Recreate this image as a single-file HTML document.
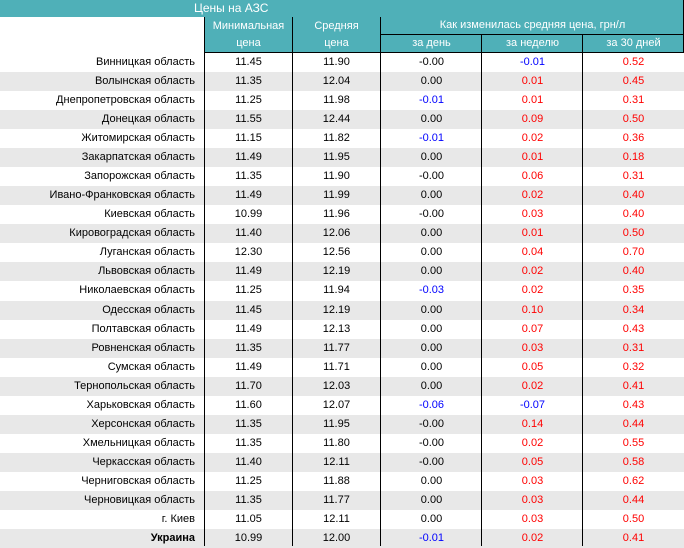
<!DOCTYPE html>
<html><head><meta charset="utf-8"><style>
body{margin:0;width:684px;height:546px;overflow:hidden;background:#fff;font-family:"Liberation Sans",Arial,sans-serif;font-size:11px;}
.top{position:absolute;left:0;top:0;width:684px;height:17px;background:#4fb0b8;color:#fff;font-size:12px;line-height:17px;}
.top span{position:absolute;left:194px;}
.h{position:absolute;background:#4fb0b8;color:#fff;text-align:center;font-size:11px;}
.v{position:absolute;top:17px;width:1px;height:529px;background:#000;}
.row{position:absolute;left:0;width:684px;height:19px;line-height:19px;}
.row div{position:absolute;top:0;text-align:center;}
.g{background:#e8e8e8;}
.row div.n{right:489px;text-align:right;}
.b{color:#0000ff}.r{color:#ff0000}
</style></head><body>
<div class="top"><span>Цены на АЗС</span></div>
<div class="h" style="left:205px;top:17px;width:479px;height:36px;"></div>
<div class="h" style="left:205px;top:18px;width:87px;line-height:17px;">Минимальная<br>цена</div>
<div class="h" style="left:292px;top:18px;width:89px;line-height:17px;">Средняя<br>цена</div>
<div class="h" style="left:381px;top:17px;width:303px;line-height:17px;">Как изменилась средняя цена, грн/л</div>
<div style="position:absolute;left:381px;top:34px;width:303px;height:1px;background:#000"></div>
<div class="h" style="left:381px;top:35px;width:101px;line-height:17px;">за день</div>
<div class="h" style="left:482px;top:35px;width:101px;line-height:17px;">за неделю</div>
<div class="h" style="left:583px;top:35px;width:101px;line-height:17px;">за 30 дней</div>
<div style="position:absolute;left:205px;top:52px;width:479px;height:1px;background:#000"></div>
<div id="rows"></div>
<div class="v" style="left:204px"></div>
<div class="v" style="left:292px"></div>
<div class="v" style="left:380px"></div>
<div class="v" style="left:481px;top:35px;height:511px"></div>
<div class="v" style="left:582px;top:35px;height:511px"></div>
<div class="v" style="left:683px;top:0;height:53px"></div>
<script>
var d=[["Винницкая область","11.45","11.90","-0.00","-0.01","0.52"],
["Волынская область","11.35","12.04","0.00","0.01","0.45"],
["Днепропетровская область","11.25","11.98","-0.01","0.01","0.31"],
["Донецкая область","11.55","12.44","0.00","0.09","0.50"],
["Житомирская область","11.15","11.82","-0.01","0.02","0.36"],
["Закарпатская область","11.49","11.95","0.00","0.01","0.18"],
["Запорожская область","11.35","11.90","-0.00","0.06","0.31"],
["Ивано-Франковская область","11.49","11.99","0.00","0.02","0.40"],
["Киевская область","10.99","11.96","-0.00","0.03","0.40"],
["Кировоградская область","11.40","12.06","0.00","0.01","0.50"],
["Луганская область","12.30","12.56","0.00","0.04","0.70"],
["Львовская область","11.49","12.19","0.00","0.02","0.40"],
["Николаевская область","11.25","11.94","-0.03","0.02","0.35"],
["Одесская область","11.45","12.19","0.00","0.10","0.34"],
["Полтавская область","11.49","12.13","0.00","0.07","0.43"],
["Ровненская область","11.35","11.77","0.00","0.03","0.31"],
["Сумская область","11.49","11.71","0.00","0.05","0.32"],
["Тернопольская область","11.70","12.03","0.00","0.02","0.41"],
["Харьковская область","11.60","12.07","-0.06","-0.07","0.43"],
["Херсонская область","11.35","11.95","-0.00","0.14","0.44"],
["Хмельницкая область","11.35","11.80","-0.00","0.02","0.55"],
["Черкасская область","11.40","12.11","-0.00","0.05","0.58"],
["Черниговская область","11.25","11.88","0.00","0.03","0.62"],
["Черновицкая область","11.35","11.77","0.00","0.03","0.44"],
["г. Киев","11.05","12.11","0.00","0.03","0.50"],
["<b>Украина</b>","10.99","12.00","-0.01","0.02","0.41"]];
var h="";
function c(v){var x=parseFloat(v);if(x<0)return"b";if(x>0)return"r";return"";}
d.forEach(function(r,i){
var top=(53+i*19.04).toFixed(2);
h+='<div class="row'+(i%2?' g':'')+'" style="top:'+top+'px">'+
'<div class="n">'+r[0]+'</div>'+
'<div style="left:205px;width:87px">'+r[1]+'</div>'+
'<div style="left:292px;width:89px">'+r[2]+'</div>'+
'<div class="'+c(r[3])+'" style="left:381px;width:101px">'+r[3]+'</div>'+
'<div class="'+c(r[4])+'" style="left:482px;width:101px">'+r[4]+'</div>'+
'<div class="r" style="left:583px;width:101px">'+r[5]+'</div></div>';});
document.getElementById("rows").innerHTML=h;
</script>
</body></html>
